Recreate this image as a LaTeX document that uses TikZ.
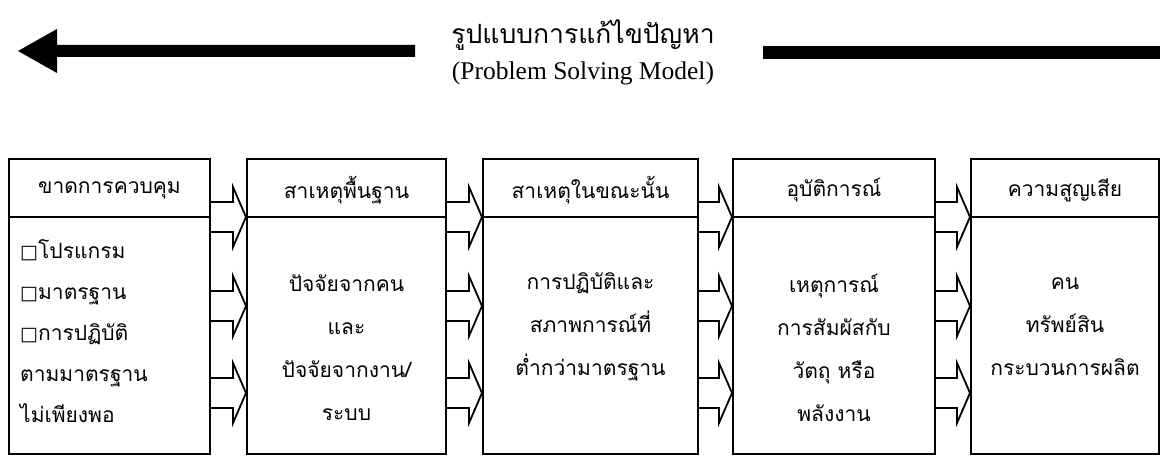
\documentclass[tikz,border=0pt]{standalone}
\usepackage{fontspec}
\setmainfont{Liberation Serif}
\newfontfamily\thaifont[Script=Thai]{Loma}
\newfontfamily\symfont{DejaVu Sans}
\usetikzlibrary{calc}
\newcommand\sq{{\symfont\fontsize{19}{19}\selectfont □}}
\newcommand\blkarrow[3]{%
  \draw[blockarrow] ($(#1.east |- 0,#3)+(0,-15)$) -- ($(#2.west |- 0,#3)+(-13,-15)$)
    -- ++(0,-15) -- (#2.west |- 0,#3) -- ($(#2.west |- 0,#3)+(-13,30)$)
    -- ++(0,-15) -- ($(#1.east |- 0,#3)+(0,15)$);}
\tikzset{
  boxframe/.style={draw, line width=2pt, anchor=north west, inner sep=0pt},
  headtext/.style={font=\thaifont\fontsize{21}{24}\selectfont, inner sep=0pt},
  bodytext/.style={font=\thaifont\fontsize{21}{43}\selectfont, inner sep=0pt, align=center},
  blockarrow/.style={line width=1.8pt, line join=miter},
  divline/.style={line width=1.6pt},
}
\begin{document}
\begin{tikzpicture}[x=1pt,y=-1pt]
\useasboundingbox (0,0) rectangle (1167,457);
% title
\node[font=\thaifont\fontsize{26.5}{30}\selectfont, inner sep=0pt] (title) at (583,35) {รูปแบบการแก้ไขปัญหา};
\node[font=\fontsize{25.5}{28}\selectfont, inner sep=0pt] (subtitle) at (583,73) {(Problem Solving Model)};
\fill (18,51) -- (57,29) -- (57,45) -- (415,45) -- (415,57) -- (57,57) -- (57,73) -- cycle;
\fill (763,46) rectangle (1160,59);
% boxes
\node[boxframe, minimum width=201pt, minimum height=295pt] (b1) at (8,158) {};
\node[boxframe, minimum width=199pt, minimum height=295pt] (b2) at (246,158) {};
\node[boxframe, minimum width=215pt, minimum height=295pt] (b3) at (482,158) {};
\node[boxframe, minimum width=202pt, minimum height=295pt] (b4) at (732,158) {};
\node[boxframe, minimum width=188pt, minimum height=295pt] (b5) at (970,158) {};
\foreach \b in {b1,b2,b3,b4,b5}{
  \draw[divline] (\b.west |- 0,217) -- (\b.east |- 0,217);
}
% headers
\node[headtext] (h1) at ($(b1.north)!0.5!(b1.north |- 0,217)+(0,3)$) {ขาดการควบคุม};
\node[headtext] (h2) at ($(b2.north)!0.5!(b2.north |- 0,217)+(0,3)$) {สาเหตุพื้นฐาน};
\node[headtext] (h3) at ($(b3.north)!0.5!(b3.north |- 0,217)+(0,3)$) {สาเหตุในขณะนั้น};
\node[headtext] (h4) at ($(b4.north)!0.5!(b4.north |- 0,217)+(0,3)$) {อุบัติการณ์};
\node[headtext] (h5) at ($(b5.north)!0.5!(b5.north |- 0,217)+(0,3)$) {ความสูญเสีย};
% bodies
\node[bodytext, align=left, anchor=west, font=\thaifont\fontsize{21}{41}\selectfont] (t1) at (20,331) {\sq โปรแกรม\\ \sq มาตรฐาน\\ \sq การปฏิบัติ\\ ตามมาตรฐาน\\ ไม่เพียงพอ};
\node[bodytext] (t2) at ($(b2.north |- 0,348)$) {ปัจจัยจากคน\\ และ\\ ปัจจัยจากงาน/\\ ระบบ};
\node[bodytext] (t3) at ($(b3.north |- 0,327)$) {การปฏิบัติและ\\ สภาพการณ์ที่\\ ต่ำกว่ามาตรฐาน};
\node[bodytext] (t4) at ($(b4.north |- 0,348)$) {เหตุการณ์\\ การสัมผัสกับ\\ วัตถุ หรือ\\ พลังงาน};
\node[bodytext] (t5) at ($(b5.north |- 0,327)$) {คน\\ ทรัพย์สิน\\ กระบวนการผลิต};
% block arrows
\foreach \a/\b in {b1/b2,b2/b3,b3/b4,b4/b5}{
  \foreach \yy in {217,306,393}{
    \blkarrow{\a}{\b}{\yy}
  }
}
\end{tikzpicture}
\end{document}
